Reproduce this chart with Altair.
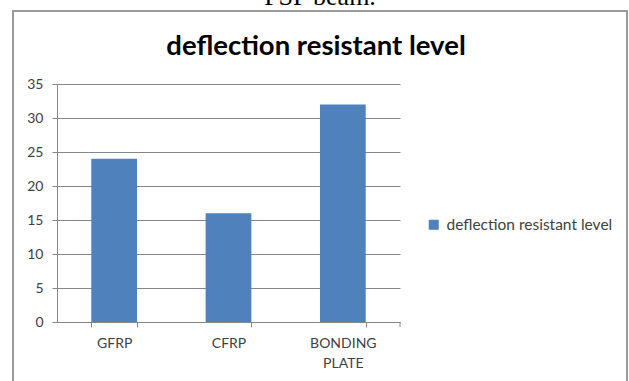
import altair as alt
import pandas as pd

categories = ["GFRP", "CFRP", "BONDING PLATE"]
values = [24, 16, 32]
series_name = "deflection resistant level"
chart_title = "deflection resistant level"
caption = "FSP beam."
y_ticks = [0, 5, 10, 15, 20, 25, 30, 35]

W, H = 343, 238

df = pd.DataFrame({"category": categories, "value": values, "series": [series_name] * len(categories)})

bars = alt.Chart(df).mark_bar(color="#4F81BD").encode(
    x=alt.X("category:N", sort=categories,
            scale=alt.Scale(paddingInner=0.6, paddingOuter=0.3),
            axis=alt.Axis(title=None, labelAngle=0, labelExpr="split(datum.label, ' ')",
                          labelLineHeight=20, labelPadding=16, labelBaseline="middle",
                          tickBand="extent", ticks=True, tickSize=5, labelFontSize=14,
                          grid=False)),
    y=alt.Y("value:Q", scale=alt.Scale(domain=[0, 35], nice=False),
            axis=alt.Axis(title=None, values=y_ticks, tickSize=5, labelPadding=9,
                          labelFontSize=14, grid=True)),
    color=alt.Color("series:N", scale=alt.Scale(domain=[series_name], range=["#4F81BD"]),
                    legend=alt.Legend(title=None, orient="none", legendX=369, legendY=133,
                                      symbolType="square", symbolSize=100, symbolStrokeWidth=0,
                                      labelFontSize=15.5, labelOffset=5, padding=0, labelLimit=400,
                                      labelColor="#404040", labelFont="Lato")),
)

end_tick = alt.Chart(pd.DataFrame({"v": [0]})).mark_rule(color="#868686", strokeWidth=1).encode(
    x=alt.value(W), y=alt.value(H), y2=alt.value(H + 5)
)

frame = alt.Chart(pd.DataFrame({"v": [0]})).mark_rect(
    fill=None, stroke="#9A9A9A", strokeWidth=2, clip=False
).encode(x=alt.value(13 - 57), x2=alt.value(627 - 57), y=alt.value(11 - 84), y2=alt.value(420))

title = alt.Chart(pd.DataFrame({"t": [chart_title]})).mark_text(
    font="Lato", fontWeight="bold", fontSize=27.5, color="#000000", align="center", baseline="alphabetic"
).encode(x=alt.value(316 - 57), y=alt.value(55 - 84), text="t:N")

cap = alt.Chart(pd.DataFrame({"t": [caption]})).mark_text(
    font="Liberation Serif", fontSize=26, color="#000000", align="center", baseline="alphabetic"
).encode(x=alt.value(320 - 57), y=alt.value(5 - 84), text="t:N")

chart = alt.layer(frame, bars, end_tick, title, cap).properties(
    width=W, height=H,
    autosize=alt.AutoSizeParams(type="none"),
    padding={"left": 57, "top": 84, "right": 229, "bottom": 59},
    background="white",
).configure_view(stroke=None).configure_axis(
    domainColor="#868686", tickColor="#868686", gridColor="#868686", gridWidth=1,
    labelColor="#404040", labelFont="Lato",
)

chart.save("out.html", embed_options={"renderer": "svg", "actions": False})
